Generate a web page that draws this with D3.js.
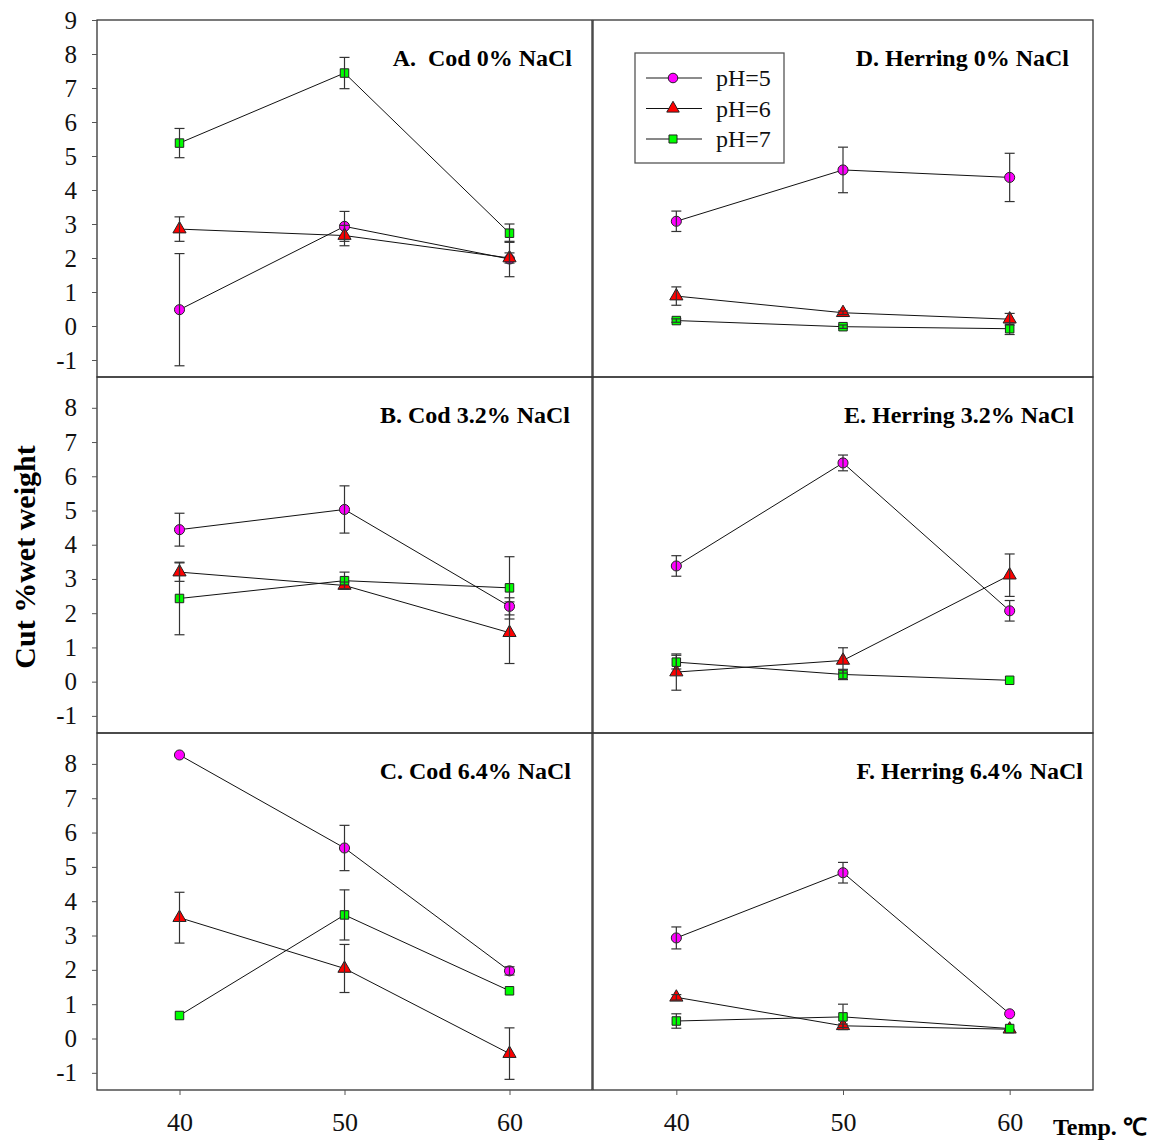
<!DOCTYPE html>
<html>
<head>
<meta charset="utf-8">
<script src="https://cdn.jsdelivr.net/npm/d3@7"></script>
<style>
  body { margin: 0; background: #fff; }
  text { font-family: "Liberation Serif", "Times New Roman", serif; }
</style>
</head>
<body>
<div id="chart"></div>
<script>
// Data: cut % wet weight at 40/50/60 C, for pH 5, 6, 7
const temps = [40, 50, 60];
const phLabels = ["pH=5", "pH=6", "pH=7"];
const panelTitles = [
  "A.  Cod 0% NaCl",
  "B. Cod 3.2% NaCl",
  "C. Cod 6.4% NaCl",
  "D. Herring 0% NaCl",
  "E. Herring 3.2% NaCl",
  "F. Herring 6.4% NaCl",
];

// means per panel, one row per pH
const meanA = [[0.48, 2.93, 1.97], [2.85, 2.66, 2.0], [5.38, 7.44, 2.73]];
const meanB = [[4.44, 5.03, 2.2], [3.2, 2.81, 1.43], [2.43, 2.95, 2.74]];
const meanC = [[8.26, 5.55, 1.97], [3.52, 2.04, -0.44], [0.67, 3.6, 1.39]];
const meanD = [[3.08, 4.59, 4.37], [0.88, 0.39, 0.2], [0.16, -0.02, -0.08]];
const meanE = [[3.38, 6.39, 2.07], [0.28, 0.62, 3.11], [0.57, 0.21, 0.04]];
const meanF = [[2.93, 4.83, 0.72], [1.2, 0.37, 0.27], [0.51, 0.63, 0.29]];

// standard deviations (error bars)
const errA = [[1.65, 0.44, 0.52], [0.36, 0.3, 0.15], [0.43, 0.46, 0.27]];
const errB = [[0.48, 0.69, 0.25], [0.27, 0.1, 0.9], [1.06, 0.25, 0.91]];
const errC = [[0, 0.66, 0.12], [0.74, 0.7, 0.75], [0, 0.73, 0]];
const errD = [[0.3, 0.67, 0.71], [0.27, 0.05, 0.17], [0.05, 0.05, 0.17]];
const errE = [[0.3, 0.23, 0.3], [0.53, 0.37, 0.62], [0.2, 0.15, 0]];
const errF = [[0.32, 0.3, 0], [0.08, 0.05, 0], [0.21, 0.37, 0]];

const yTicksTop = [-1, 0, 1, 2, 3, 4, 5, 6, 7, 8, 9];
const yTicksLower = [-1, 0, 1, 2, 3, 4, 5, 6, 7, 8];

var width = 1158;
var height = 1142;

// panel frames
var colX = [[97, 592], [593, 1093]];
var rowY = [[20, 377], [377, 733], [733, 1090]];
var rowTop = [9, 8.9, 8.9];

var fills = ["#ff00ff", "#ff0000", "#00ff00"];
var shapes = [d3.symbolCircle, d3.symbolTriangle, d3.symbolSquare];
var sizes = [80, 75, 72];

var panels = [
  { title: panelTitles[0], means: meanA, errs: errA, col: 0, row: 0, titleEnd: 572 },
  { title: panelTitles[1], means: meanB, errs: errB, col: 0, row: 1, titleEnd: 570 },
  { title: panelTitles[2], means: meanC, errs: errC, col: 0, row: 2, titleEnd: 571 },
  { title: panelTitles[3], means: meanD, errs: errD, col: 1, row: 0, titleEnd: 1069 },
  { title: panelTitles[4], means: meanE, errs: errE, col: 1, row: 1, titleEnd: 1074 },
  { title: panelTitles[5], means: meanF, errs: errF, col: 1, row: 2, titleEnd: 1083 },
];

var svg = d3
  .select("#chart")
  .append("svg")
  .attr("width", width)
  .attr("height", height);

panels.forEach(function (p) {
  var x0 = colX[p.col][0], x1 = colX[p.col][1];
  var y0 = rowY[p.row][0], y1 = rowY[p.row][1];

  var x = d3.scaleLinear().domain([35, 65]).range([x0, x1]);
  var y = d3.scaleLinear().domain([-1.5, rowTop[p.row]]).range([y1, y0]);

  var g = svg.append("g");

  // frame
  g.append("rect")
    .attr("x", x0)
    .attr("y", y0)
    .attr("width", x1 - x0)
    .attr("height", y1 - y0)
    .attr("fill", "none")
    .attr("stroke", "#333")
    .attr("stroke-width", 1.3);

  // y axis on the left column only
  if (p.col === 0) {
    var yAxis = d3
      .axisLeft(y)
      .tickValues(p.row === 0 ? yTicksTop : yTicksLower)
      .tickSize(5)
      .tickPadding(15)
      .tickFormat(function (d) { return String(d); }); // plain hyphen for -1
    var ya = g.append("g")
      .attr("transform", "translate(" + x0 + ",0)")
      .attr("font-family", null)
      .call(yAxis);
    ya.select(".domain").remove();
    ya.selectAll("line").attr("stroke", "#555");
    ya.selectAll("text")
      .attr("fill", "#111")
      .style("font-size", "25px")
      .style("font-family", "'Liberation Serif', serif");
  }

  // x axis on the bottom row only
  if (p.row === 2) {
    var xAxis = d3.axisBottom(x).tickValues(temps).tickSize(5).tickPadding(18);
    var xa = g.append("g").attr("transform", "translate(0," + y1 + ")").call(xAxis);
    xa.select(".domain").remove();
    xa.selectAll("line").attr("stroke", "#555");
    xa.selectAll("text")
      .attr("fill", "#111")
      .style("font-size", "26px")
      .style("font-family", "'Liberation Serif', serif");
  }

  // panel title
  g.append("text")
    .attr("x", p.titleEnd)
    .attr("y", y0 + 46)
    .attr("text-anchor", "end")
    .style("white-space", "pre")
    .style("font-size", "24px")
    .style("font-weight", "bold")
    .text(p.title);

  var line = d3
    .line()
    .x(function (d, i) { return x(temps[i]); })
    .y(function (d) { return y(d); });

  // connecting lines
  p.means.forEach(function (m) {
    g.append("path")
      .attr("d", line(m))
      .attr("fill", "none")
      .attr("stroke", "#111")
      .attr("stroke-width", 1);
  });

  // markers
  p.means.forEach(function (m, s) {
    g.selectAll(null)
      .data(m)
      .enter()
      .append("path")
      .attr("d", d3.symbol().type(shapes[s]).size(sizes[s]))
      .attr("transform", function (d, i) {
        return "translate(" + x(temps[i]) + "," + y(d) + ")";
      })
      .attr("fill", fills[s])
      .attr("stroke", "#222")
      .attr("stroke-width", 1);
  });

  // error bars drawn over the markers
  p.means.forEach(function (m, s) {
    m.forEach(function (v, i) {
      var e = p.errs[s][i];
      if (!e) return;
      var cx = x(temps[i]);
      var eb = g.append("g").attr("stroke", "#333").attr("stroke-width", 1.2);
      eb.append("line")
        .attr("x1", cx).attr("x2", cx)
        .attr("y1", y(v - e)).attr("y2", y(v + e));
      [v - e, v + e].forEach(function (t) {
        eb.append("line")
          .attr("x1", cx - 5).attr("x2", cx + 5)
          .attr("y1", y(t)).attr("y2", y(t));
      });
    });
  });
});

// legend inside panel D
var legend = svg.append("g");
legend.append("rect")
  .attr("x", 635)
  .attr("y", 53)
  .attr("width", 149)
  .attr("height", 110)
  .attr("fill", "#fff")
  .attr("stroke", "#555")
  .attr("stroke-width", 1.3);

phLabels.forEach(function (lab, s) {
  var ly = 78 + s * 30.5;
  legend.append("line")
    .attr("x1", 646).attr("x2", 702)
    .attr("y1", ly).attr("y2", ly)
    .attr("stroke", s === 0 ? "#666" : "#111")
    .attr("stroke-width", s === 0 ? 1.5 : 1);
  legend.append("path")
    .attr("d", d3.symbol().type(shapes[s]).size(sizes[s] * 0.9))
    .attr("transform", "translate(673," + ly + ")")
    .attr("fill", fills[s])
    .attr("stroke", "#222");
  legend.append("text")
    .attr("x", 716)
    .attr("y", ly + 8)
    .style("font-size", "24px")
    .attr("fill", "#111")
    .text(lab);
});

// axis titles
svg.append("text")
  .attr("transform", "translate(35,557) rotate(-90)")
  .attr("text-anchor", "middle")
  .style("font-size", "30px")
  .style("font-weight", "bold")
  .text("Cut %wet weight");

svg.append("text")
  .attr("x", 1053)
  .attr("y", 1135)
  .style("font-size", "24px")
  .style("font-weight", "bold")
  .text("Temp. ℃");
</script>
</body>
</html>
